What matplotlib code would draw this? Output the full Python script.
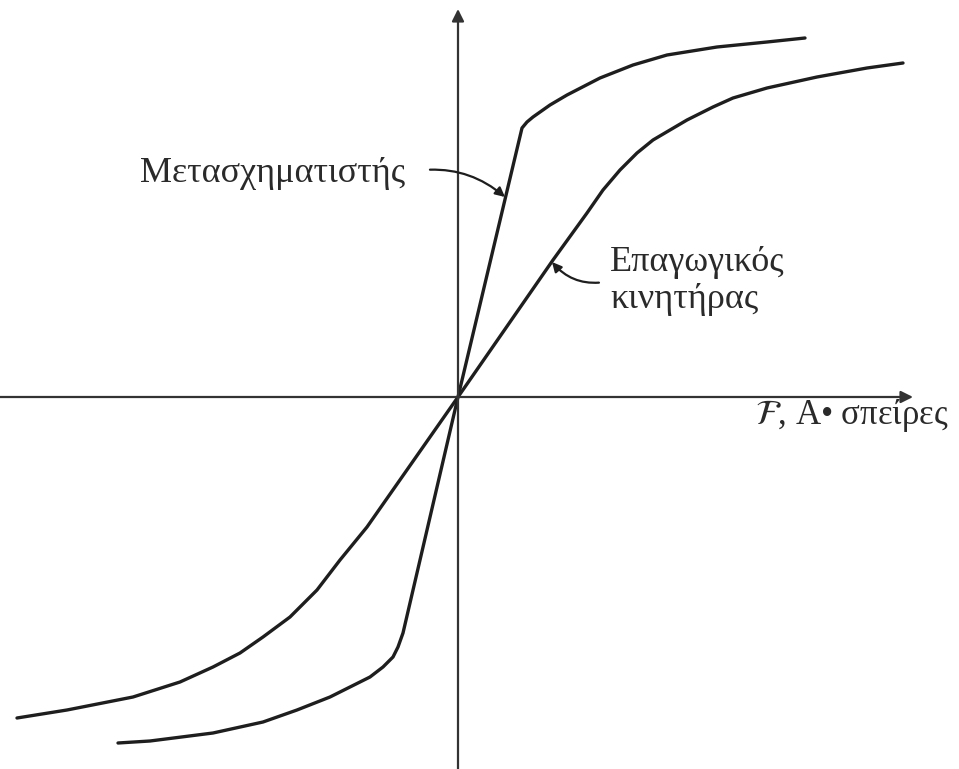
import matplotlib.pyplot as plt

# curves (origin at the axes crossing, y up)
transformer_x = [-340, -308, -245, -195, -161, -128, -98, -88, -75, -65, -60, -55, 0,
                 64, 69, 75, 92, 109, 142, 175, 209, 259, 309, 347]
transformer_y = [-346, -344, -336, -325, -313, -300, -285, -280, -270, -260, -250, -236, 0,
                 269, 275, 280, 292, 302, 319, 332, 342, 350, 355, 359]

motor_x = [-441, -391, -325, -278, -245, -218, -195, -168, -141, -118, -91, 0,
           95, 129, 145, 162, 179, 195, 212, 229, 255, 275, 309, 359, 409, 445]
motor_y = [-321, -313, -300, -285, -270, -256, -240, -220, -193, -163, -130, 0,
           137, 184, 207, 227, 244, 257, 267, 277, 290, 299, 309, 320, 329, 334]

label_tr = "Μετασχηματιστής"
label_mot = "Επαγωγικός\nκινητήρας"
label_x = r"$\mathcal{F}$, A• σπείρες"

plt.rcParams['font.family'] = ['Liberation Serif', 'DejaVu Serif']
plt.rcParams['mathtext.fontset'] = 'stix'

fig = plt.figure(figsize=(9.59, 7.69), dpi=100)
ax = fig.add_axes([0, 0, 1, 1])
ax.set_xlim(-458, 501)
ax.set_ylim(-372, 397)
ax.axis('off')

ink = '#1e1e1e'

# axes with arrow heads
ax.annotate('', xy=(455, 0), xytext=(-458, 0),
            arrowprops=dict(arrowstyle='-|>', color='#333333', lw=1.6, mutation_scale=18, shrinkA=0, shrinkB=0))
ax.annotate('', xy=(0, 388), xytext=(0, -372),
            arrowprops=dict(arrowstyle='-|>', color='#333333', lw=1.6, mutation_scale=18, shrinkA=0, shrinkB=0))

ax.plot(transformer_x, transformer_y, color=ink, lw=2.4, solid_capstyle='round', solid_joinstyle='round')
ax.plot(motor_x, motor_y, color=ink, lw=2.4, solid_capstyle='round', solid_joinstyle='round')

# labels
ax.annotate(label_tr, xy=(47, 200), xytext=(-318, 224), fontsize=26, color='#2a2a2a',
            va='center', ha='left',
            arrowprops=dict(arrowstyle='-|>', color=ink, lw=1.6, mutation_scale=14,
                            connectionstyle='arc3,rad=-0.25', shrinkA=16, shrinkB=0,
                            relpos=(1.0, 0.5)))
ax.annotate(label_mot, xy=(94, 135), xytext=(152, 116), fontsize=26, color='#2a2a2a',
            va='center', ha='left', linespacing=1.15,
            arrowprops=dict(arrowstyle='-|>', color=ink, lw=1.6, mutation_scale=14,
                            connectionstyle='arc3,rad=-0.3', shrinkA=6, shrinkB=0,
                            relpos=(0.0, 0.5)))
ax.text(297, -18, label_x, fontsize=25, color='#2a2a2a', va='center', ha='left')

fig.savefig('out.png', dpi=100)
